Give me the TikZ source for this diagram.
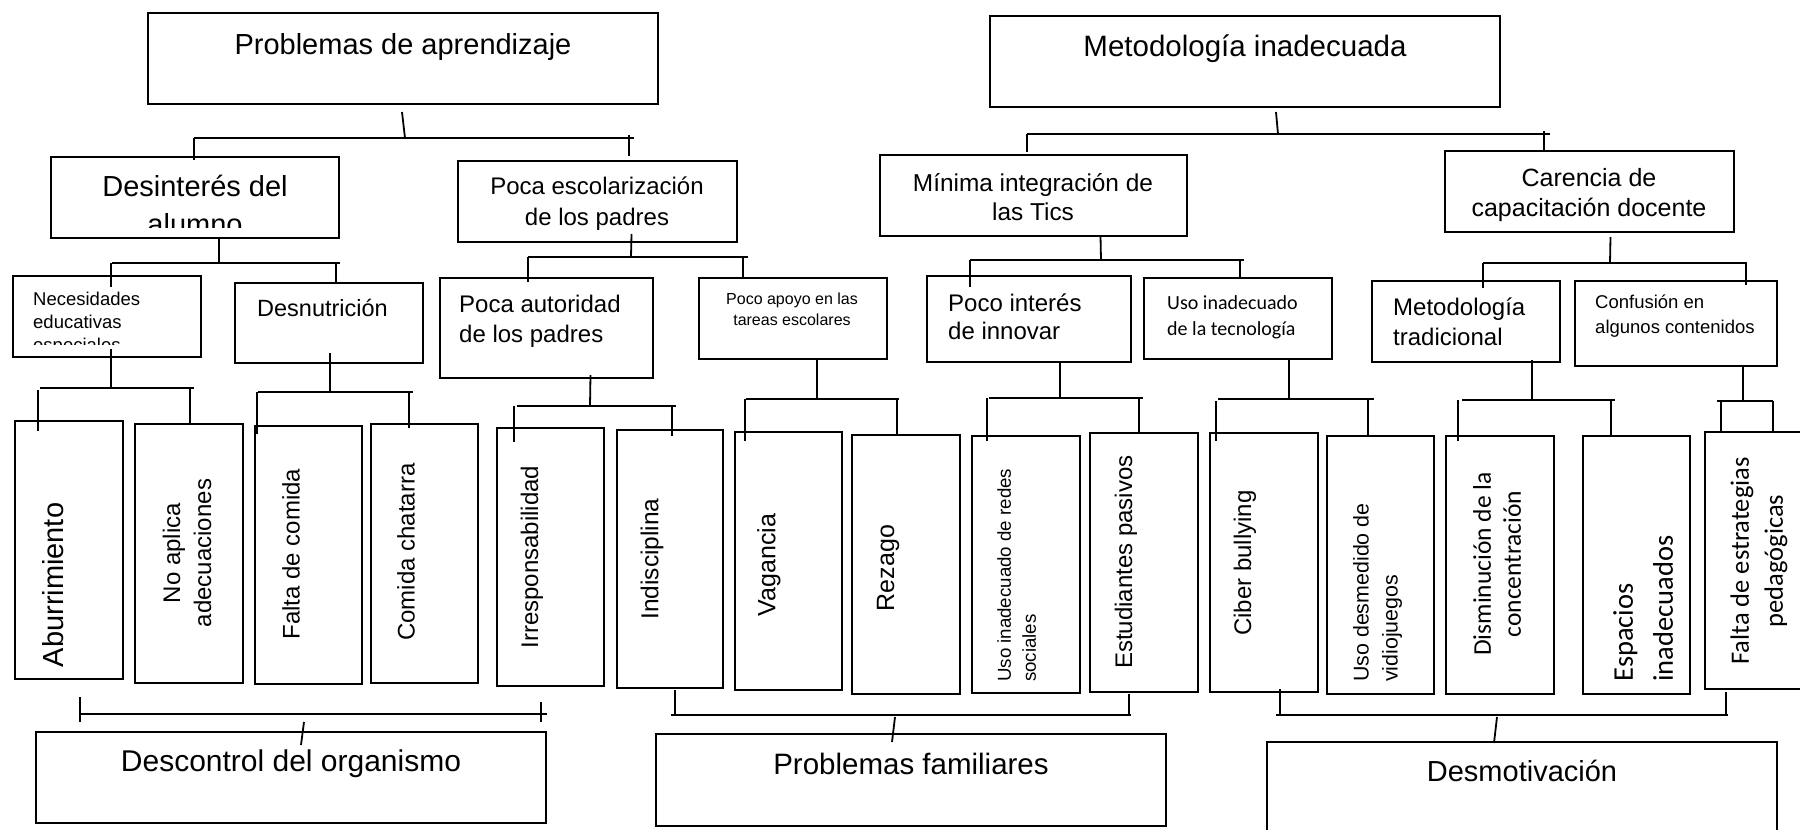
\documentclass[tikz,border=0pt]{standalone}
\usepackage{fontspec}
\setmainfont{Liberation Sans}
\newfontfamily\calibri{Carlito}

\tikzstyle{caja} = [rectangle, draw, line width=2pt, inner sep=0pt, outer sep=0pt, anchor=north west]
\tikzstyle{linea} = [line width=1.8pt]
\tikzstyle{texto} = [inner sep=0pt]
\tikzstyle{girado} = [inner sep=0pt, rotate=90]

\newcommand{\tam}[2]{\fontsize{#1pt}{#2pt}\selectfont}

\begin{document}
\begin{tikzpicture}[x=1pt, y=-1pt]
    \clip (0,0) rectangle (1800,830);

    % cajas
    \node[caja, minimum width=510, minimum height=91] (aprend) at (148,13) {};
    \node[caja, minimum width=510, minimum height=91] (metod) at (990,16) {};

    \node[caja, minimum width=288, minimum height=81] (desint) at (51,157) {};
    \node[caja, minimum width=279, minimum height=81] (escol) at (458,161) {};
    \node[caja, minimum width=307, minimum height=81] (minima) at (880,155) {};
    \node[caja, minimum width=289, minimum height=81] (carenc) at (1445,151) {};

    \node[caja, minimum width=188, minimum height=81] (neces) at (13,276) {};
    \node[caja, minimum width=188, minimum height=80] (desnut) at (235,283) {};
    \node[caja, minimum width=213, minimum height=100] (autor) at (440,278) {};
    \node[caja, minimum width=188, minimum height=81] (apoyo) at (699,278) {};
    \node[caja, minimum width=204, minimum height=86] (innov) at (927,276) {};
    \node[caja, minimum width=188, minimum height=81] (tecno) at (1144,278) {};
    \node[caja, minimum width=188, minimum height=81] (tradic) at (1372,281) {};
    \node[caja, minimum width=202, minimum height=85] (confus) at (1575,281) {};

    \node[caja, minimum width=108, minimum height=258] (aburr) at (15,421) {};
    \node[caja, minimum width=108, minimum height=259] (noapl) at (135,424) {};
    \node[caja, minimum width=107, minimum height=258] (falta) at (255,426) {};
    \node[caja, minimum width=107, minimum height=259] (chatar) at (371,424) {};
    \node[caja, minimum width=107, minimum height=258] (irresp) at (497,428) {};
    \node[caja, minimum width=106, minimum height=258] (indisc) at (617,430) {};
    \node[caja, minimum width=107, minimum height=258] (vagan) at (735,432) {};
    \node[caja, minimum width=108, minimum height=259] (rezago) at (852,435) {};
    \node[caja, minimum width=108, minimum height=257] (redes) at (972,436) {};
    \node[caja, minimum width=108, minimum height=259] (estud) at (1090,433) {};
    \node[caja, minimum width=108, minimum height=259] (ciber) at (1210,433) {};
    \node[caja, minimum width=107, minimum height=258] (desmed) at (1327,436) {};
    \node[caja, minimum width=108, minimum height=258] (dismin) at (1446,436) {};
    \node[caja, minimum width=107, minimum height=258] (espac) at (1583,436) {};
    \node[caja, minimum width=110, minimum height=257] (estrat) at (1705,432) {};

    \node[caja, minimum width=510, minimum height=91] (descon) at (36,732) {};
    \node[caja, minimum width=510, minimum height=92] (famil) at (656,734) {};
    \node[caja, minimum width=510, minimum height=110] (desmot) at (1267,742) {};

    % textos
    \node[texto, anchor=north, font=\tam{29}{34}] (aprend-t) at (403,33) {Problemas de aprendizaje};
    \node[texto, anchor=north, font=\tam{29.5}{34}] (metod-t) at (1245,35) {Metodología inadecuada};

    \begin{scope}
        \clip (51,157) rectangle (339,227);
        \node[texto, anchor=north, align=center, font=\tam{29}{38}] (desint-t) at (195,175) {Desinterés del\\alumno};
    \end{scope}
    \node[texto, anchor=north, align=center, font=\tam{24}{31}] (escol-t) at (597,177) {Poca escolarización\\de los padres};
    \node[texto, anchor=north, align=center, font=\tam{24.4}{29}] (minima-t) at (1033,173) {Mínima integración de\\las Tics};
    \node[texto, anchor=north, align=center, font=\tam{25}{30}] (carenc-t) at (1589,168) {Carencia de\\capacitación docente};

    \begin{scope}
        \clip (13,276) rectangle (201,344);
        \node[texto, anchor=north west, align=left, font=\tam{18.5}{23}] (neces-t) at (33,292) {Necesidades\\educativas\\especiales};
    \end{scope}
    \node[texto, anchor=north west, font=\tam{23.5}{28}] (desnut-t) at (257,299) {Desnutrición};
    \node[texto, anchor=north west, align=left, font=\tam{24}{30}] (autor-t) at (459,295) {Poca autoridad\\de los padres};
    \node[texto, anchor=north, align=center, font=\tam{16}{21}] (apoyo-t) at (792,293) {Poco apoyo en las\\tareas escolares};
    \node[texto, anchor=north west, align=left, font=\tam{24}{28}] (innov-t) at (948,294) {Poco interés\\de innovar};
    \node[texto, anchor=north west, align=left, font=\calibri\tam{20}{26}] (tecno-t) at (1167,295) {Uso inadecuado\\de la tecnología};
    \node[texto, anchor=north west, align=left, font=\tam{24}{30}] (tradic-t) at (1393,298) {Metodología\\tradicional};
    \node[texto, anchor=north west, align=left, font=\tam{18.5}{25}] (confus-t) at (1595,295) {Confusión en\\algunos contenidos};

    \node[girado, font=\tam{29}{34}] (aburr-t) at (53.5,585) {Aburrimiento};
    \node[girado, align=center, font=\tam{24}{31}] (noapl-t) at (187,553) {No aplica\\adecuaciones};
    \node[girado, font=\tam{24}{28}] (falta-t) at (291,554) {Falta de comida};
    \node[girado, font=\tam{24}{28}] (chatar-t) at (406,552) {Comida chatarra};
    \node[girado, font=\tam{24}{28}] (irresp-t) at (532,557) {Irresponsabilidad};
    \node[girado, font=\tam{24.5}{28}] (indisc-t) at (652,559) {Indisciplina};
    \node[girado, font=\tam{25}{28}] (vagan-t) at (769,565) {Vagancia};
    \node[girado, font=\tam{25}{28}] (rezago-t) at (888,568) {Rezago};
    \node[girado, anchor=north west, align=left, font=\tam{18.7}{25}] (redes-t) at (997,682) {Uso inadecuado de redes\\sociales};
    \node[girado, font=\tam{24}{28}] (estud-t) at (1126,562) {Estudiantes pasivos};
    \node[girado, font=\tam{24}{28}] (ciber-t) at (1245,563) {Ciber bullying};
    \node[girado, anchor=north west, align=left, font=\tam{21.4}{29}] (desmed-t) at (1353,682) {Uso desmedido de\\vidiojuegos};
    \node[girado, align=center, font=\calibri\tam{25.5}{30}] (dismin-t) at (1497,564) {Disminución de la\\concentración};
    \node[girado, anchor=north west, align=left, font=\calibri\tam{28.5}{40}] (espac-t) at (1613,682) {Espacios\\inadecuados};
    \node[girado, align=center, font=\calibri\tam{26.5}{34}] (estrat-t) at (1759,561) {Falta de estrategias\\pedagógicas};

    \node[texto, anchor=north, font=\tam{30}{34}] (descon-t) at (291,750) {Descontrol del organismo};
    \node[texto, anchor=north, font=\tam{29.5}{34}] (famil-t) at (911,753) {Problemas familiares};
    \node[texto, anchor=north, font=\tam{29}{34}] (desmot-t) at (1522,760) {Desmotivación};

    % ramas de arriba hacia abajo
    \coordinate (a0) at (405,138); \coordinate (a1) at (194,138); \coordinate (a2) at (634,138);
    \draw[linea] (aprend.south) ++(-1,8) -- (a0);
    \draw[linea] (a1) -- (a2);
    \draw[linea] (a1) -- ++(0,22);
    \draw[linea] (a2) ++(-5,-3) -- ++(0,21);

    \coordinate (b0) at (1278,134); \coordinate (b1) at (1027,134); \coordinate (b2) at (1550,134);
    \draw[linea] (metod.south) ++(31,5) -- (b0);
    \draw[linea] (b1) -- (b2);
    \draw[linea] (b1) -- ++(0,18);
    \draw[linea] (b2) ++(-6,-3) -- ++(0,19);

    \coordinate (c0) at (219,263); \coordinate (c1) at (112,263); \coordinate (c2) at (340,263);
    \draw[linea] (desint.south) ++(24,0) -- (c0);
    \draw[linea] (c1) -- (c2);
    \draw[linea] (c1) ++(-1,0) -- ++(0,24);
    \draw[linea] (c2) ++(-4,-1) -- ++(0,22);

    \coordinate (d0) at (631,257); \coordinate (d1) at (528,257); \coordinate (d2) at (748,257);
    \draw[linea] (escol.south) ++(34,-8) -- (d0);
    \draw[linea] (d1) -- (d2);
    \draw[linea] (d1) -- ++(0,25);
    \draw[linea] (d2) ++(-5,0) -- ++(0,20);

    \coordinate (e0) at (1101,260); \coordinate (e1) at (970,260); \coordinate (e2) at (1244,260);
    \draw[linea] (minima.south) ++(67,0) -- (e0);
    \draw[linea] (e1) -- (e2);
    \draw[linea] (e1) -- ++(0,27);
    \draw[linea] (e2) ++(-4,0) -- ++(0,19);

    \coordinate (f0) at (1610,263); \coordinate (f1) at (1483,263); \coordinate (f2) at (1747,263);
    \draw[linea] (carenc.south) ++(21,5) -- (f0);
    \draw[linea] (f1) -- (f2);
    \draw[linea] (f1) -- ++(0,25);
    \draw[linea] (f2) ++(-1,0) -- ++(0,22);

    \coordinate (g0) at (111,388); \coordinate (g1) at (40,388); \coordinate (g2) at (194,388);
    \draw[linea] (neces.south) ++(4,-8) -- (g0);
    \draw[linea] (g1) -- (g2);
    \draw[linea] (g1) ++(-2,2) -- ++(0,41);
    \draw[linea] (g2) ++(-4,0) -- ++(0,35);

    \coordinate (h0) at (330,392); \coordinate (h1) at (258,392); \coordinate (h2) at (413,392);
    \draw[linea] (desnut.south) ++(1,-10) -- (h0);
    \draw[linea] (h1) -- (h2);
    \draw[linea] (h1) ++(-1,0) -- ++(0,42);
    \draw[linea] (h2) ++(-4,0) -- ++(0,36);

    \coordinate (i0) at (590,406); \coordinate (i1) at (517,406); \coordinate (i2) at (676,406);
    \draw[linea] (autor.south) ++(44,-3) -- (i0);
    \draw[linea] (i1) -- (i2);
    \draw[linea] (i1) ++(-3,0) -- ++(0,36);
    \draw[linea] (i2) ++(-4,0) -- ++(0,30);

    \coordinate (j0) at (817,399); \coordinate (j1) at (746,399); \coordinate (j2) at (899,399);
    \draw[linea] (apoyo.south) ++(24,1) -- (j0);
    \draw[linea] (j1) -- (j2);
    \draw[linea] (j1) ++(-1,0) -- ++(0,42);
    \draw[linea] (j2) ++(-2,0) -- ++(0,36);

    \coordinate (k0) at (1060,398); \coordinate (k1) at (989,398); \coordinate (k2) at (1143,398);
    \draw[linea] (innov.south) ++(31,0) -- (k0);
    \draw[linea] (k1) -- (k2);
    \draw[linea] (k1) ++(-2,0) -- ++(0,43);
    \draw[linea] (k2) ++(-4,0) -- ++(0,35);

    \coordinate (l0) at (1289,399); \coordinate (l1) at (1218,399); \coordinate (l2) at (1374,399);
    \draw[linea] (tecno.south) ++(51,0) -- (l0);
    \draw[linea] (l1) -- (l2);
    \draw[linea] (l1) ++(-2,2) -- ++(0,40);
    \draw[linea] (l2) ++(-6,0) -- ++(0,37);

    \coordinate (m0) at (1532,400); \coordinate (m1) at (1462,400); \coordinate (m2) at (1615,400);
    \draw[linea] (tradic.south) ++(66,-2) -- (m0);
    \draw[linea] (m1) -- (m2);
    \draw[linea] (m1) ++(-4,0) -- ++(0,41);
    \draw[linea] (m2) ++(-4,0) -- ++(0,36);

    \coordinate (n0) at (1743,401); \coordinate (n1) at (1717,401); \coordinate (n2) at (1773,401);
    \draw[linea] (confus.south) ++(67,0) -- (n0);
    \draw[linea] (n1) -- (n2);
    \draw[linea] (n1) ++(4,0) -- ++(0,31);
    \draw[linea] (n2) -- ++(0,31);

    % ramas de abajo
    \coordinate (o1) at (80,714); \coordinate (o2) at (547,714);
    \draw[linea] (o1) -- (o2);
    \draw[linea] (o1) ++(0,-17) -- ++(0,25);
    \draw[linea] (o2) ++(-6,-12) -- ++(0,20);
    \draw[linea] (descon.north) ++(10,13) -- ++(3,-23);

    \coordinate (p1) at (671,715); \coordinate (p2) at (1131,715);
    \draw[linea] (p1) -- (p2);
    \draw[linea] (p1) ++(4,-25) -- ++(0,26);
    \draw[linea] (p2) ++(-2,-21) -- ++(0,22);
    \draw[linea] (famil.north) ++(-19,8) -- ++(3,-25);

    \coordinate (q1) at (1276,715); \coordinate (q2) at (1728,715);
    \draw[linea] (q1) -- (q2);
    \draw[linea] (q1) ++(4,-26) -- ++(0,27);
    \draw[linea] (q2) ++(-2,-23) -- ++(0,24);
    \draw[linea] (desmot.north) ++(-28,1) -- ++(3,-26);
\end{tikzpicture}
\end{document}
